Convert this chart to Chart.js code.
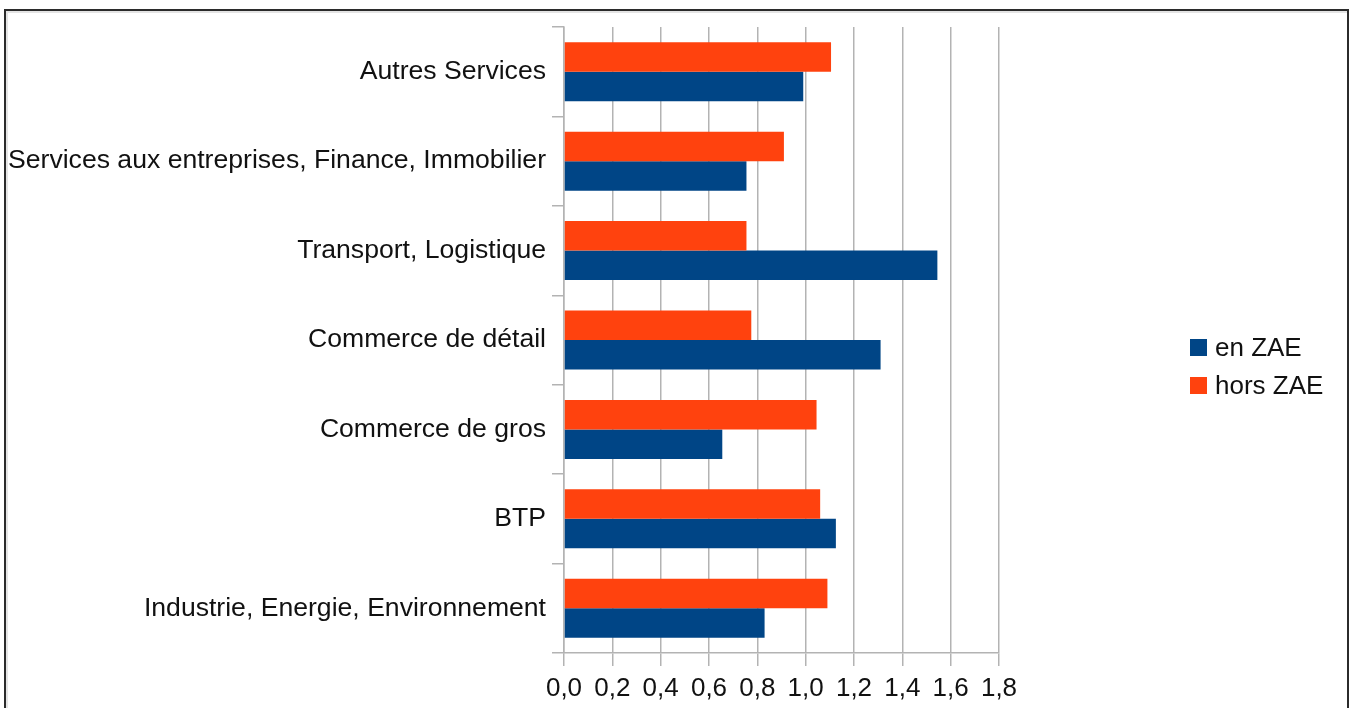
<!DOCTYPE html>
<html>
<head>
<meta charset="utf-8">
<script src="https://cdn.jsdelivr.net/npm/chart.js@4.4.1/dist/chart.umd.min.js"></script>
<style>
  html, body { margin: 0; padding: 0; background: #fff; }
  body { width: 1349px; height: 708px; position: relative; overflow: hidden; font-family: "Liberation Sans", Arial, sans-serif; }
  #frame { position: absolute; left: 4px; top: 9px; width: 1345px; height: 720px; border-left: 2.5px solid #2b2b2b; border-top: 2.5px solid #2b2b2b; border-right: 2.5px solid #2b2b2b; box-sizing: border-box; box-shadow: inset 2px 2px 0 #e4e4e4; }
  #chart { position: absolute; left: 0; top: 0; }
  .leg { position: absolute; left: 1190px; font-size: 26px; color: #111; line-height: 30px; height: 30px; white-space: nowrap; }
  .leg .sw { display: inline-block; width: 17px; height: 17px; vertical-align: middle; margin-right: 8px; position: relative; top: -2px; }
</style>
</head>
<body>
<div id="frame"></div>
<canvas id="chart" width="1349" height="708"></canvas>
<div class="leg" id="leg0" style="top:332px;"><span class="sw" style="background:#004586"></span><span id="legText0"></span></div>
<div class="leg" id="leg1" style="top:370px;"><span class="sw" style="background:#ff420e"></span><span id="legText1"></span></div>
<script>
const categories = [
  "Autres Services",
  "Services aux entreprises, Finance, Immobilier",
  "Transport, Logistique",
  "Commerce de détail",
  "Commerce de gros",
  "BTP",
  "Industrie, Energie, Environnement"
];
const seriesNames = ["en ZAE", "hors ZAE"];
const enZAE   = [0.99, 0.755, 1.545, 1.31, 0.655, 1.125, 0.83];
const horsZAE = [1.105, 0.91, 0.755, 0.775, 1.045, 1.06, 1.09];
const xTickLabels = ["0,0", "0,2", "0,4", "0,6", "0,8", "1,0", "1,2", "1,4", "1,6", "1,8"];

const BLUE = "#004586";
const ORANGE = "#ff420e";
const GRID = "#b3b3b3";
const FAMILY = "'Liberation Sans', Arial, sans-serif";

document.getElementById("legText0").textContent = seriesNames[0];
document.getElementById("legText1").textContent = seriesNames[1];

new Chart(document.getElementById("chart"), {
  type: "bar",
  data: {
    labels: categories,
    datasets: [
      { label: seriesNames[1], data: horsZAE, backgroundColor: ORANGE, borderWidth: 0 },
      { label: seriesNames[0], data: enZAE, backgroundColor: BLUE, borderWidth: 0 }
    ]
  },
  options: {
    indexAxis: "y",
    responsive: false,
    animation: false,
    events: [],
    categoryPercentage: 0.66,
    barPercentage: 1.0,
    layout: { padding: { left: 0, top: 27, right: 350, bottom: 0 } },
    plugins: { legend: { display: false }, tooltip: { enabled: false } },
    scales: {
      x: {
        min: 0, max: 1.8,
        afterFit: (s) => { s.height = 55; },
        ticks: {
          stepSize: 0.2,
          padding: 7,
          color: "#111",
          font: { family: FAMILY, size: 26 },
          maxRotation: 0,
          autoSkip: false,
          callback: (v, i) => xTickLabels[i]
        },
        grid: { color: GRID, lineWidth: 1.5, tickLength: 13, drawTicks: true },
        border: { color: GRID, width: 1.5 }
      },
      y: {
        afterFit: (s) => { s.width = 564; },
        ticks: { padding: 6, color: "#111", font: { family: FAMILY, size: 26.6, lineHeight: 1.1 }, autoSkip: false },
        grid: { color: GRID, lineWidth: 1.5, tickLength: 12, drawOnChartArea: false, drawTicks: true, offset: true },
        border: { color: GRID, width: 1.5 }
      }
    }
  }
});
</script>
</body>
</html>
